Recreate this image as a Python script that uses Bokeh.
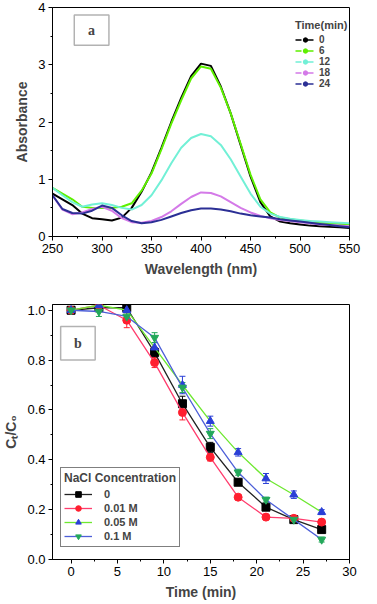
from bokeh.plotting import figure
from bokeh.layouts import column
from bokeh.models import (Legend, LegendItem, Whisker, ColumnDataSource, BoxAnnotation,
                          Label, TeeHead, FixedTicker, NumeralTickFormatter)
from bokeh.embed import file_html
from bokeh.resources import INLINE

# ---------------- Panel a data ----------------
wavelength = [250, 260, 270, 280, 290, 300, 310, 320, 330, 340, 350, 360, 370, 380, 390,
              400, 410, 420, 430, 440, 450, 460, 470, 480, 490, 500, 510, 520, 530, 540, 550]
abs_0 = [0.75, 0.65, 0.55, 0.40, 0.32, 0.30, 0.28, 0.33, 0.50, 0.78, 1.12, 1.55, 2.00, 2.42, 2.80,
         3.02, 2.98, 2.62, 2.15, 1.60, 1.05, 0.60, 0.35, 0.26, 0.23, 0.21, 0.19, 0.18, 0.17, 0.16, 0.15]
abs_6 = [0.85, 0.75, 0.65, 0.52, 0.50, 0.50, 0.50, 0.52, 0.58, 0.80, 1.10, 1.52, 1.97, 2.38, 2.76,
         2.97, 2.93, 2.60, 2.15, 1.62, 1.08, 0.65, 0.42, 0.33, 0.30, 0.28, 0.26, 0.24, 0.23, 0.22, 0.21]
abs_12 = [0.85, 0.72, 0.60, 0.52, 0.56, 0.58, 0.55, 0.50, 0.47, 0.55, 0.72, 0.98, 1.28, 1.55, 1.72,
          1.79, 1.75, 1.60, 1.35, 1.05, 0.75, 0.52, 0.40, 0.34, 0.31, 0.29, 0.27, 0.26, 0.25, 0.24, 0.23]
abs_18 = [0.72, 0.47, 0.39, 0.42, 0.48, 0.52, 0.45, 0.32, 0.25, 0.24, 0.27, 0.34, 0.44, 0.57, 0.69,
          0.77, 0.76, 0.70, 0.60, 0.50, 0.42, 0.36, 0.32, 0.29, 0.27, 0.25, 0.23, 0.21, 0.20, 0.19, 0.18]
abs_24 = [0.72, 0.48, 0.41, 0.40, 0.45, 0.54, 0.50, 0.37, 0.27, 0.23, 0.25, 0.29, 0.35, 0.41, 0.46,
          0.49, 0.49, 0.47, 0.44, 0.40, 0.37, 0.35, 0.33, 0.30, 0.28, 0.26, 0.24, 0.22, 0.20, 0.18, 0.16]
time_labels = ["0", "6", "12", "18", "24"]
spectra_colors = ["#000000", "#5ef000", "#72f0d6", "#d47ae8", "#2b2f95"]

# ---------------- Panel b data ----------------
time_min = [0, 3, 6, 9, 12, 15, 18, 21, 24, 27]
c_0 = [1.00, 1.01, 1.01, 0.83, 0.625, 0.45, 0.31, 0.21, 0.16, 0.12]
c_001 = [1.00, 1.02, 0.96, 0.79, 0.59, 0.41, 0.25, 0.17, 0.165, 0.15]
c_005 = [1.00, 1.02, 1.00, 0.85, 0.70, 0.555, 0.43, 0.325, 0.26, 0.19]
c_01 = [1.00, 0.995, 0.975, 0.89, 0.69, 0.505, 0.35, 0.24, 0.16, 0.08]
err_0 = [0.005, 0.01, 0.01, 0.02, 0.03, 0.02, 0.012, 0.01, 0.01, 0.01]
err_001 = [0.005, 0.01, 0.03, 0.02, 0.03, 0.015, 0.01, 0.01, 0.01, 0.01]
err_005 = [0.005, 0.01, 0.01, 0.02, 0.035, 0.02, 0.015, 0.02, 0.015, 0.01]
err_01 = [0.005, 0.02, 0.02, 0.02, 0.02, 0.02, 0.012, 0.01, 0.01, 0.01]
nacl_labels = ["0", "0.01 M", "0.05 M", "0.1 M"]

FONT = "Liberation Sans"
NAN = float("nan")


def style_axes(p):
    for ax in (p.xaxis, p.yaxis):
        ax.axis_label_text_font = FONT
        ax.axis_label_text_font_style = "bold"
        ax.axis_label_text_font_size = "14px"
        ax.major_label_text_font = FONT
        ax.major_label_text_font_size = "13px"
        ax.major_label_text_color = "black"
        ax.axis_line_color = "black"
        ax.major_tick_line_color = "black"
        ax.minor_tick_line_color = "black"
        ax.major_tick_out = 4
        ax.major_tick_in = 0
        ax.minor_tick_out = 2
        ax.minor_tick_in = 0
        ax.major_label_standoff = 3
        ax.axis_label_standoff = 5
    p.xgrid.visible = False
    p.ygrid.visible = False
    p.outline_line_color = "black"
    p.outline_line_width = 1
    p.background_fill_color = "white"
    p.border_fill_color = "white"


# ---------------- Figure a ----------------
pa = figure(width=361, height=296, x_range=(250, 550), y_range=(0, 4),
            output_backend="svg", toolbar_location=None,
            min_border_left=40, min_border_right=12, min_border_top=7, min_border_bottom=60)
style_axes(pa)
pa.xaxis.axis_label = "Wavelength (nm)"
pa.yaxis.axis_label = "Absorbance"
pa.xaxis.ticker = FixedTicker(ticks=[250, 300, 350, 400, 450, 500, 550],
                              minor_ticks=[275, 325, 375, 425, 475, 525])
pa.yaxis.ticker = FixedTicker(ticks=[0, 1, 2, 3, 4], minor_ticks=[0.5, 1.5, 2.5, 3.5])

series_a = [abs_0, abs_6, abs_12, abs_18, abs_24]
items_a = []
for vals, col, lab in zip(series_a, spectra_colors, time_labels):
    pa.line(wavelength, vals, line_color=col, line_width=2)
    # legend sample: dash-dot line with a dot (not drawn in the plot area)
    lr = pa.line([NAN], [NAN], line_color=col, line_width=1.5, line_dash="6 2 2 2")
    dr = pa.scatter([NAN], [NAN], marker="circle", size=3, fill_color=col, line_color=col)
    items_a.append(LegendItem(label=lab, renderers=[lr, dr]))

leg_a = Legend(items=items_a, location=(243, 147), title="Time(min)",
               title_text_font=FONT, title_text_font_style="bold", title_text_font_size="11px",
               label_text_font=FONT, label_text_font_style="bold", label_text_font_size="10px",
               glyph_width=20, glyph_height=11, label_height=11, label_standoff=4,
               spacing=0, padding=2, margin=0, border_line_color=None,
               background_fill_alpha=0, title_standoff=3)
pa.add_layout(leg_a)

pa.add_layout(BoxAnnotation(left=272, right=307, bottom=3.34, top=3.87,
                            fill_color="white", fill_alpha=1, line_color="black", line_width=1.5))
pa.add_layout(Label(x=289.5, y=3.6, text="a", text_font="Liberation Serif", text_font_style="bold",
                    text_font_size="14px", text_align="center", text_baseline="middle"))

# ---------------- Figure b ----------------
pb = figure(width=361, height=306, x_range=(-2, 30), y_range=(0, 1.023),
            output_backend="svg", toolbar_location=None,
            min_border_left=40, min_border_right=12, min_border_top=8, min_border_bottom=41)
style_axes(pb)
pb.xaxis.axis_label = "Time (min)"
pb.yaxis.axis_label = "Cₜ/C₀"
pb.xaxis.ticker = FixedTicker(ticks=[0, 5, 10, 15, 20, 25, 30],
                              minor_ticks=[-2.5, 2.5, 7.5, 12.5, 17.5, 22.5, 27.5])
pb.yaxis.ticker = FixedTicker(ticks=[0.0, 0.2, 0.4, 0.6, 0.8, 1.0],
                              minor_ticks=[0.1, 0.3, 0.5, 0.7, 0.9])
pb.yaxis.formatter = NumeralTickFormatter(format="0.0")

series_b = [c_0, c_001, c_005, c_01]
errs_b = [err_0, err_001, err_005, err_01]
line_cols = ["#222222", "#ff3d6e", "#6ee830", "#4d5fd8"]
marker_cols = ["#000000", "#ff1f2f", "#2a3fd6", "#23a85a"]
markers = ["square", "circle", "triangle", "inverted_triangle"]
items_b = []
for vals, errs, lc, mc, mk, lab in zip(series_b, errs_b, line_cols, marker_cols, markers, nacl_labels):
    src = ColumnDataSource(dict(x=time_min, y=vals,
                                upper=[v + e for v, e in zip(vals, errs)],
                                lower=[v - e for v, e in zip(vals, errs)]))
    pb.add_layout(Whisker(base="x", upper="upper", lower="lower", source=src,
                          line_color=mc, line_width=1,
                          upper_head=TeeHead(size=6, line_color=mc, line_width=1),
                          lower_head=TeeHead(size=6, line_color=mc, line_width=1)))
    lr = pb.line("x", "y", source=src, line_color=lc, line_width=1.3)
    sr = pb.scatter("x", "y", source=src, marker=mk, size=8, fill_color=mc, line_color=mc)
    items_b.append(LegendItem(label=lab, renderers=[lr, sr]))

leg_b = Legend(items=items_b, location=(8, 12), title="NaCl Concentration",
               title_text_font=FONT, title_text_font_style="bold", title_text_font_size="12px",
               label_text_font=FONT, label_text_font_style="bold", label_text_font_size="11px",
               glyph_width=28, glyph_height=14, label_height=14, label_standoff=12,
               spacing=0, padding=3, margin=0, border_line_color="black", border_line_width=1.5,
               background_fill_color="white", background_fill_alpha=1, title_standoff=2)
pb.add_layout(leg_b)

pb.add_layout(BoxAnnotation(left=-1.12, right=2.6, bottom=0.80, top=0.935,
                            fill_color="white", fill_alpha=1, line_color="black", line_width=1.5))
pb.add_layout(Label(x=0.74, y=0.8675, text="b", text_font="Liberation Serif", text_font_style="bold",
                    text_font_size="14px", text_align="center", text_baseline="middle"))

layout = column(pa, pb, spacing=0)
open("out.html", "w").write(file_html(layout, INLINE))
